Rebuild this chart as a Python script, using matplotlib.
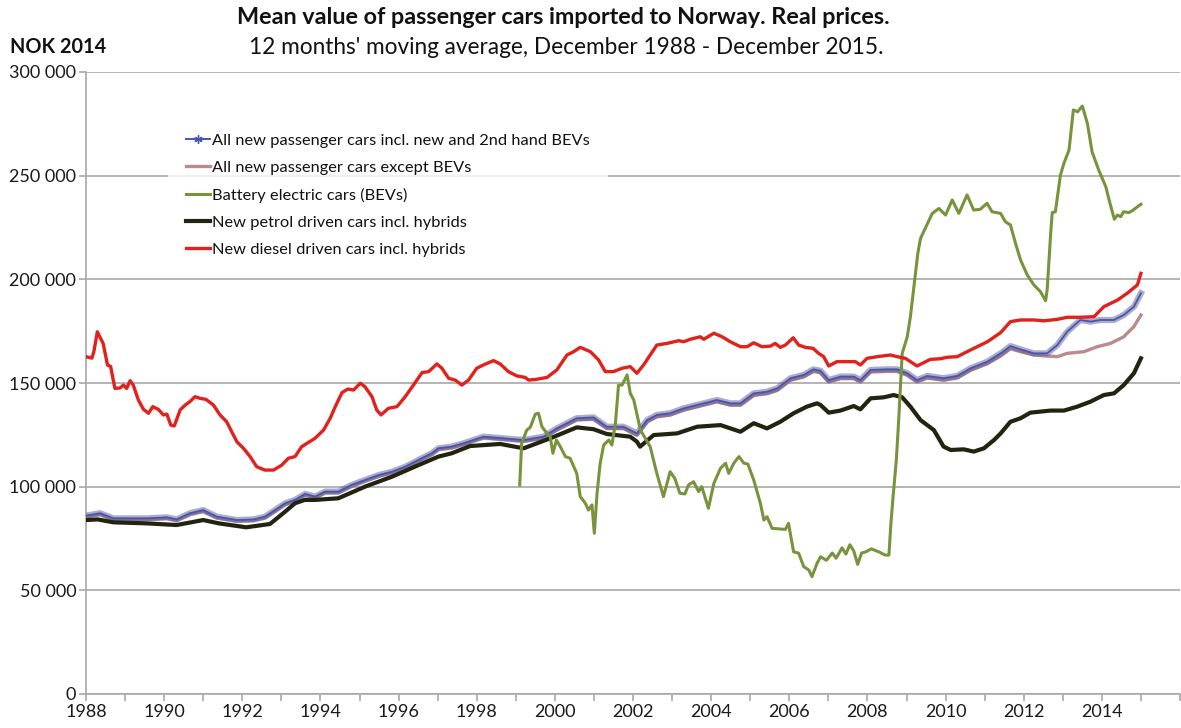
import matplotlib
matplotlib.use('Agg')
import matplotlib.pyplot as plt
import matplotlib.patheffects as pe
from matplotlib.lines import Line2D
from matplotlib.ticker import FuncFormatter

# values in thousand NOK (2014 prices)
diesel_year = [1988.00, 1988.15, 1988.20, 1988.29, 1988.44, 1988.55, 1988.63, 1988.74, 1988.87, 1988.96,
               1989.04, 1989.13, 1989.21, 1989.34, 1989.47, 1989.60, 1989.71, 1989.85, 1989.98, 1990.07,
               1990.17, 1990.26, 1990.41, 1990.54, 1990.66, 1990.79, 1990.92, 1991.07, 1991.26, 1991.43,
               1991.60, 1991.86, 1992.03, 1992.20, 1992.37, 1992.58, 1992.80, 1993.01, 1993.18, 1993.35,
               1993.52, 1993.86, 1994.08, 1994.25, 1994.38, 1994.55, 1994.70, 1994.85, 1995.02, 1995.14,
               1995.32, 1995.44, 1995.55, 1995.74, 1995.96, 1996.17, 1996.38, 1996.60, 1996.77, 1996.98,
               1997.11, 1997.28, 1997.45, 1997.62, 1997.79, 1998.00, 1998.17, 1998.43, 1998.60, 1998.81,
               1999.03, 1999.24, 1999.33, 1999.54, 1999.80, 2000.05, 2000.31, 2000.48, 2000.65, 2000.91,
               2001.12, 2001.29, 2001.50, 2001.72, 2001.93, 2002.10, 2002.27, 2002.44, 2002.61, 2002.87,
               2003.17, 2003.30, 2003.47, 2003.72, 2003.81, 2004.07, 2004.28, 2004.49, 2004.75, 2004.92,
               2005.09, 2005.30, 2005.52, 2005.64, 2005.77, 2005.90, 2006.10, 2006.24, 2006.41, 2006.61,
               2006.75, 2006.88, 2007.01, 2007.22, 2007.48, 2007.69, 2007.82, 2007.99, 2008.25, 2008.59,
               2008.76, 2008.97, 2009.10, 2009.27, 2009.44, 2009.61, 2009.87, 2010.04, 2010.30, 2010.55,
               2010.81, 2011.07, 2011.41, 2011.66, 2011.92, 2012.26, 2012.51, 2012.86, 2013.11, 2013.45,
               2013.80, 2014.05, 2014.40, 2014.65, 2014.91, 2015.00]
diesel_value = [162.7, 162.0, 165.0, 174.7, 169.0, 158.7, 158.0, 147.4, 147.6, 149.0,
                147.4, 151.1, 149.0, 141.8, 137.3, 135.4, 138.6, 137.3, 134.6, 135.0,
                129.7, 129.3, 137.0, 139.4, 141.0, 143.4, 142.6, 142.1, 139.4, 134.6,
                131.3, 121.7, 118.5, 114.5, 109.6, 108.0, 108.0, 110.4, 113.7, 114.5,
                119.3, 123.3, 127.3, 133.0, 138.6, 145.3, 147.1, 146.6, 149.9, 148.2,
                143.4, 137.0, 134.6, 137.8, 138.6, 143.4, 149.0, 155.0, 155.5, 159.2,
                157.1, 152.3, 151.4, 149.0, 151.4, 157.1, 158.7, 160.8, 159.2, 155.5,
                153.4, 152.7, 151.4, 151.8, 152.7, 156.3, 163.5, 165.1, 167.2, 165.1,
                161.1, 155.5, 155.5, 157.1, 157.9, 154.7, 158.7, 163.5, 168.3, 169.1,
                170.4, 169.9, 171.1, 172.3, 171.1, 174.0, 172.3, 169.9, 167.5, 167.5,
                169.4, 167.5, 167.8, 169.1, 167.2, 168.3, 171.8, 168.3, 167.2, 166.7,
                164.3, 162.7, 158.2, 160.3, 160.3, 160.3, 158.7, 161.9, 162.7, 163.5,
                162.7, 161.9, 160.3, 158.2, 159.8, 161.4, 161.7, 162.4, 162.7, 165.1,
                167.5, 169.9, 174.3, 179.6, 180.4, 180.4, 180.0, 180.7, 181.7, 181.7,
                182.0, 186.8, 190.0, 193.3, 197.3, 202.9]

all_year = [1988.00, 1988.36, 1988.70, 1989.55, 1990.07, 1990.32, 1990.66, 1991.00, 1991.35, 1991.86,
            1992.29, 1992.58, 1992.84, 1993.10, 1993.35, 1993.61, 1993.86, 1994.12, 1994.46, 1994.80,
            1995.14, 1995.49, 1995.83, 1996.17, 1996.51, 1996.85, 1997.02, 1997.36, 1997.66, 1998.17,
            1998.69, 1999.20, 1999.71, 2000.05, 2000.56, 2000.99, 2001.33, 2001.76, 2002.10, 2002.36,
            2002.61, 2002.95, 2003.30, 2003.64, 2004.15, 2004.49, 2004.75, 2005.09, 2005.43, 2005.69,
            2006.03, 2006.37, 2006.62, 2006.80, 2007.01, 2007.31, 2007.65, 2007.82, 2008.08, 2008.50,
            2008.76, 2009.02, 2009.27, 2009.53, 2009.95, 2010.30, 2010.64, 2011.07, 2011.41, 2011.66,
            2011.92, 2012.26, 2012.60, 2012.86, 2013.11, 2013.45, 2013.71, 2013.96, 2014.31, 2014.56,
            2014.82, 2015.00]
all_value = [86.0, 87.2, 84.7, 84.7, 85.2, 84.2, 87.2, 88.7, 85.5, 83.9,
             84.2, 85.5, 88.7, 92.0, 93.6, 96.5, 95.2, 97.6, 97.6, 100.8,
             103.2, 105.6, 107.2, 109.6, 112.9, 116.1, 118.5, 119.3, 120.9, 124.1,
             123.3, 122.5, 124.1, 128.1, 133.0, 133.4, 128.9, 128.9, 125.7, 132.1,
             134.6, 135.4, 137.8, 139.4, 141.8, 140.2, 140.2, 145.0, 145.8, 147.4,
             152.3, 153.9, 156.6, 155.9, 151.4, 153.1, 153.1, 151.4, 156.3, 156.6,
             156.6, 154.7, 151.4, 153.4, 152.3, 153.4, 157.1, 160.3, 164.3, 167.8,
             166.2, 164.3, 164.3, 168.3, 174.7, 180.4, 179.6, 180.4, 180.4, 182.8,
             186.8, 193.3]

nobev_year = [1988.00, 1988.36, 1988.70, 1989.55, 1990.07, 1990.32, 1990.66, 1991.00, 1991.35, 1991.86,
              1992.29, 1992.58, 1992.84, 1993.10, 1993.35, 1993.61, 1993.86, 1994.12, 1994.46, 1994.80,
              1995.14, 1995.49, 1995.83, 1996.17, 1996.51, 1996.85, 1997.02, 1997.36, 1997.66, 1998.17,
              1998.69, 1999.20, 1999.71, 2000.05, 2000.56, 2000.99, 2001.33, 2001.76, 2002.10, 2002.36,
              2002.61, 2002.95, 2003.30, 2003.64, 2004.15, 2004.49, 2004.75, 2005.09, 2005.43, 2005.69,
              2006.03, 2006.37, 2006.62, 2006.80, 2007.01, 2007.31, 2007.65, 2007.82, 2008.08, 2008.50,
              2008.76, 2009.02, 2009.27, 2009.53, 2009.95, 2010.30, 2010.64, 2011.07, 2011.41, 2011.66,
              2011.92, 2012.26, 2012.60, 2012.86, 2013.11, 2013.54, 2013.88, 2014.22, 2014.56, 2014.82,
              2015.00]
nobev_value = [85.5, 86.6, 84.2, 84.2, 84.7, 83.7, 86.6, 88.1, 85.0, 83.4,
               83.7, 85.0, 88.2, 91.5, 93.1, 96.0, 94.7, 97.1, 97.1, 100.3,
               102.7, 105.1, 106.7, 109.1, 112.4, 115.6, 118.0, 118.8, 120.4, 123.6,
               122.8, 121.9, 123.4, 127.3, 132.2, 132.5, 128.0, 128.0, 124.8, 131.2,
               133.7, 134.5, 136.9, 138.5, 140.9, 139.3, 139.3, 144.0, 144.8, 146.4,
               151.3, 152.9, 155.6, 154.9, 150.4, 152.1, 152.1, 150.4, 155.3, 155.6,
               155.6, 153.7, 150.4, 152.4, 151.3, 152.4, 156.1, 159.3, 163.0, 166.5,
               165.1, 163.5, 163.0, 162.7, 164.3, 165.1, 167.5, 169.1, 172.3, 177.2,
               182.8]

bev_year = [1999.10, 1999.15, 1999.28, 1999.37, 1999.50, 1999.58, 1999.67, 1999.80, 1999.88, 1999.95,
            2000.04, 2000.14, 2000.27, 2000.39, 2000.56, 2000.65, 2000.78, 2000.86, 2000.95, 2001.01,
            2001.08, 2001.16, 2001.25, 2001.38, 2001.46, 2001.55, 2001.63, 2001.72, 2001.85, 2001.93,
            2002.02, 2002.19, 2002.44, 2002.61, 2002.78, 2002.95, 2003.07, 2003.20, 2003.33, 2003.42,
            2003.55, 2003.68, 2003.76, 2003.93, 2004.07, 2004.24, 2004.37, 2004.45, 2004.58, 2004.71,
            2004.84, 2004.94, 2005.09, 2005.26, 2005.35, 2005.43, 2005.56, 2005.90, 2005.98, 2006.11,
            2006.24, 2006.37, 2006.50, 2006.58, 2006.71, 2006.80, 2006.95, 2007.10, 2007.20, 2007.35,
            2007.45, 2007.55, 2007.65, 2007.75, 2007.85, 2007.95, 2008.10, 2008.30, 2008.45, 2008.55,
            2008.60, 2008.66, 2008.74, 2008.80, 2008.89, 2009.02, 2009.10, 2009.20, 2009.29, 2009.36,
            2009.48, 2009.66, 2009.83, 2010.00, 2010.17, 2010.34, 2010.55, 2010.72, 2010.89, 2011.06,
            2011.19, 2011.41, 2011.53, 2011.66, 2011.79, 2011.92, 2012.09, 2012.26, 2012.43, 2012.56,
            2012.60, 2012.69, 2012.73, 2012.81, 2012.94, 2013.03, 2013.16, 2013.27, 2013.38, 2013.50,
            2013.63, 2013.75, 2013.92, 2014.10, 2014.22, 2014.32, 2014.40, 2014.48, 2014.56, 2014.69,
            2014.78, 2014.91, 2015.00]
bev_value = [100.8, 120.9, 127.3, 128.6, 135.0, 135.4, 128.9, 125.7, 124.1, 116.1,
             122.5, 119.3, 114.5, 113.7, 106.4, 95.2, 92.0, 88.7, 91.2, 77.5,
             96.8, 111.3, 120.1, 122.5, 120.1, 130.6, 149.0, 149.0, 153.9, 145.0,
             141.8, 127.3, 119.3, 106.4, 95.2, 107.2, 104.0, 96.8, 96.5, 100.8,
             102.4, 97.6, 100.0, 89.6, 101.6, 108.9, 111.3, 106.4, 111.3, 114.5,
             111.3, 110.9, 103.2, 92.0, 83.9, 85.5, 79.9, 79.4, 82.3, 68.6,
             67.9, 61.4, 59.8, 56.6, 63.0, 66.2, 64.5, 68.0, 65.5, 70.5,
             67.5, 72.0, 69.0, 62.5, 68.0, 68.5, 70.0, 68.5, 67.0, 67.0,
             82.0, 96.0, 112.9, 132.1, 164.3, 172.3, 182.0, 198.1, 212.6, 219.8,
             224.6, 231.8, 234.2, 231.0, 238.3, 231.8, 240.7, 233.4, 233.8, 236.7,
             232.6, 231.8, 227.8, 226.2, 217.4, 209.3, 202.1, 197.3, 194.0, 189.7,
             194.9, 222.2, 232.2, 232.6, 250.3, 256.0, 262.4, 281.7, 280.8, 283.6,
             275.2, 261.5, 252.7, 244.7, 235.8, 229.0, 231.0, 230.2, 232.6, 232.2,
             233.1, 235.0, 236.2]

petrol_year = [1988.00, 1988.30, 1988.70, 1989.55, 1990.32, 1991.00, 1991.40, 1992.10, 1992.71, 1993.10,
               1993.35, 1993.60, 1993.86, 1994.46, 1995.14, 1995.83, 1996.51, 1997.02, 1997.36, 1997.83,
               1998.60, 1999.20, 1999.88, 2000.56, 2000.99, 2001.33, 2001.93, 2002.10, 2002.18, 2002.53,
               2003.13, 2003.64, 2004.24, 2004.75, 2005.09, 2005.43, 2005.77, 2006.11, 2006.45, 2006.71,
               2006.80, 2007.01, 2007.31, 2007.65, 2007.82, 2008.08, 2008.42, 2008.67, 2008.89, 2009.10,
               2009.36, 2009.70, 2009.95, 2010.13, 2010.47, 2010.72, 2010.98, 2011.24, 2011.41, 2011.66,
               2011.92, 2012.17, 2012.69, 2013.03, 2013.37, 2013.71, 2014.05, 2014.31, 2014.56, 2014.82,
               2015.00]
petrol_value = [83.9, 84.2, 82.8, 82.3, 81.5, 83.9, 82.3, 80.4, 82.0, 88.0,
                92.0, 93.6, 93.6, 94.4, 100.0, 104.8, 110.4, 114.5, 116.1, 119.6,
                120.6, 118.5, 123.3, 128.6, 127.7, 125.4, 124.1, 121.7, 119.3, 124.9,
                125.7, 128.9, 129.7, 126.5, 130.6, 128.1, 131.3, 135.4, 138.6, 140.2,
                139.4, 135.7, 136.7, 138.9, 137.3, 142.6, 143.1, 144.2, 143.1, 138.6,
                132.1, 127.3, 119.3, 117.7, 118.0, 116.9, 118.5, 122.5, 125.7, 131.3,
                133.0, 135.7, 136.7, 136.7, 138.6, 141.0, 144.2, 145.0, 149.0, 154.7,
                161.9]

labels = ['All new passenger cars incl. new and 2nd hand BEVs',
          'All new passenger cars except BEVs',
          'Battery electric cars (BEVs)',
          'New petrol driven cars incl. hybrids',
          'New diesel driven cars incl. hybrids']

C_ALL = '#4656ad'
C_NOBEV = '#b98b8e'
C_BEV = '#77933c'
C_PETROL = '#23240f'
C_DIESEL = '#e2201c'
GRID = '#b4b4b4'

plt.rcParams['font.family'] = ['Lato', 'DejaVu Sans']

fig = plt.figure(figsize=(11.81, 7.28), dpi=100)
ax = fig.add_axes([86 / 1181, 34 / 728, 1094 / 1181, 622 / 728])

ax.plot(nobev_year, nobev_value, color=C_NOBEV, lw=2.4, zorder=3)
# fuzzy band imitates the dense star markers of the original series
ax.plot(all_year, all_value, color=C_ALL, lw=1.3, zorder=4,
        path_effects=[pe.Stroke(linewidth=4.5, foreground='#5f5a9a', alpha=0.5), pe.Normal()])
ax.plot(bev_year, bev_value, color=C_BEV, lw=2.2, zorder=5)
ax.plot(petrol_year, petrol_value, color=C_PETROL, lw=3.0, zorder=4)
ax.plot(diesel_year, diesel_value, color=C_DIESEL, lw=2.4, zorder=6)

ax.set_xlim(1988, 2016)
ax.set_ylim(0, 300)
ax.set_yticks(range(0, 301, 50))
ax.yaxis.set_major_formatter(FuncFormatter(lambda v, p: '0' if v == 0 else f'{int(v)} 000'))
years = list(range(1988, 2017))
ax.set_xticks(years)
ax.set_xticklabels([str(y) if y % 2 == 0 and y < 2016 else '' for y in years])
ax.grid(True, axis='y', color=GRID, lw=1.4)
ax.set_axisbelow(True)
for s in ('top', 'right'):
    ax.spines[s].set_visible(False)
for s in ('left', 'bottom'):
    ax.spines[s].set_color('#a8a8a8')
    ax.spines[s].set_linewidth(1.2)
ax.tick_params(direction='out', length=5, color='#a8a8a8', width=1.2,
               labelsize=13, labelcolor='#1a1a1a', pad=2)

handles = [Line2D([], [], color=C_ALL, lw=1.4, marker=(6, 2, 0), markersize=6),
           Line2D([], [], color=C_NOBEV, lw=2.4),
           Line2D([], [], color=C_BEV, lw=2.2),
           Line2D([], [], color=C_PETROL, lw=3.0),
           Line2D([], [], color=C_DIESEL, lw=2.4)]
leg = ax.legend(handles, labels, loc='upper left', bbox_to_anchor=(168 / 1181, 1 - 115 / 728),
                bbox_transform=fig.transFigure, fontsize=11.8, frameon=True, fancybox=False,
                borderpad=1.1, labelspacing=0.78, handlelength=1.45, handletextpad=0.12,
                borderaxespad=0)
leg.get_frame().set_facecolor('white')
leg.get_frame().set_edgecolor('none')
leg.set_zorder(7)
for t in leg.get_texts():
    t.set_color('#111111')

fig.text(563 / 1181, 1 - 18 / 728, 'Mean value of passenger cars imported to Norway. Real prices.',
         ha='center', va='center', fontsize=16.8, fontweight='bold', color='#111111')
fig.text(566 / 1181, 1 - 47 / 728, "12 months' moving average, December 1988 - December 2015.",
         ha='center', va='center', fontsize=16.3, color='#111111')
fig.text(10 / 1181, 1 - 47 / 728, 'NOK 2014', ha='left', va='center', fontsize=14.3,
         fontweight='bold', color='#111111')

fig.savefig('out.png', dpi=100)
